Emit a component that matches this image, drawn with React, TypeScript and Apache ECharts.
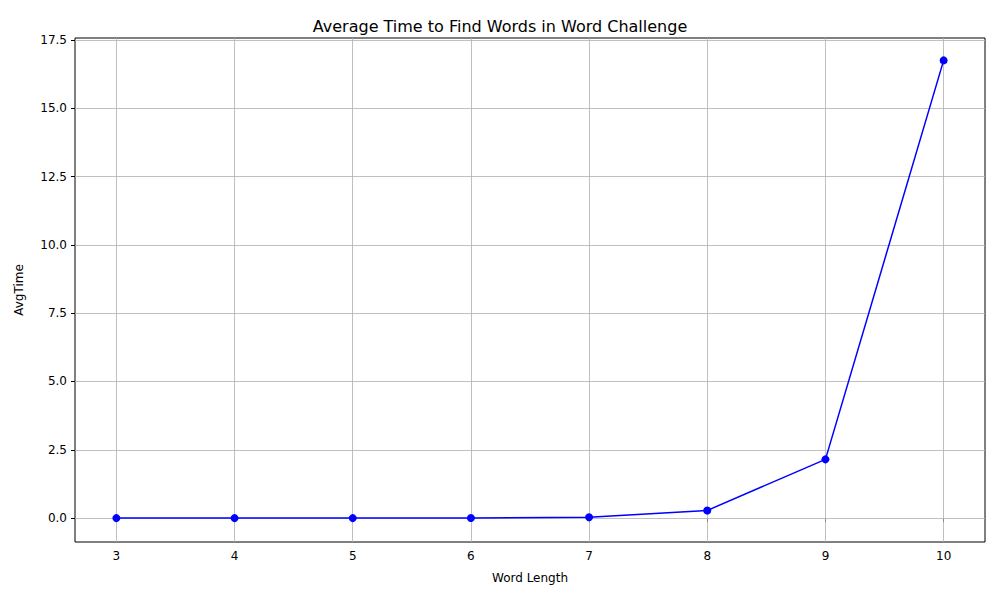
import React, { useEffect, useRef } from 'react';
import * as echarts from 'echarts';

const wordLengths = [3, 4, 5, 6, 7, 8, 9, 10];
const avgTimes = [0.0, 0.0, 0.0, 0.005, 0.03, 0.28, 2.15, 16.75];
const yTicks = [0, 2.5, 5, 7.5, 10, 12.5, 15, 17.5];

const font = 'DejaVu Sans';

const App: React.FC = () => {
  const ref = useRef<HTMLDivElement>(null);

  useEffect(() => {
    if (!ref.current) return;
    const chart = echarts.init(ref.current, undefined, { renderer: 'svg' });
    const gridStyle = { color: '#b0b0b0', width: 0.8, type: 'solid' as const };
    chart.setOption({
      animation: false,
      title: {
        text: 'Average Time to Find Words in Word Challenge',
        left: 'center',
        top: 13,
        textStyle: { fontFamily: font, fontSize: 16, fontWeight: 'normal', color: '#000' },
      },
      grid: {
        left: 75, right: 15, top: 38, bottom: 58,
        show: true, borderColor: '#000', borderWidth: 1, backgroundColor: 'transparent',
      },
      xAxis: {
        type: 'value', min: 2.65, max: 10.35,
        name: 'Word Length', nameLocation: 'middle', nameGap: 30,
        nameTextStyle: { fontFamily: font, fontSize: 12, color: '#000' },
        axisLine: { show: false },
        axisTick: { show: true, customValues: wordLengths, length: 4, lineStyle: { color: '#000' } },
        axisLabel: { customValues: wordLengths, fontFamily: font, fontSize: 12, color: '#000', margin: 8 },
        splitLine: { show: false },
      },
      yAxis: {
        type: 'value', min: -0.875, max: 17.57,
        name: 'AvgTime', nameLocation: 'middle', nameGap: 50,
        nameTextStyle: { fontFamily: font, fontSize: 12, color: '#000' },
        axisLine: { show: false },
        axisTick: { show: true, customValues: yTicks, length: 4, lineStyle: { color: '#000' } },
        axisLabel: {
          customValues: yTicks, fontFamily: font, fontSize: 12, color: '#000', margin: 8,
          formatter: (v: number) => v.toFixed(1),
        },
        splitLine: { show: false },
      },
      series: [
        {
          type: 'line',
          data: wordLengths.map((x, i) => [x, avgTimes[i]]),
          symbol: 'circle', symbolSize: 8,
          lineStyle: { color: '#0000ff', width: 1.5 },
          itemStyle: { color: '#0000ff' },
          z: 3,
          markLine: {
            silent: true, symbol: 'none', label: { show: false },
            lineStyle: gridStyle, z: 1,
            data: [
              ...wordLengths.map((x) => ({ xAxis: x })),
              ...yTicks.map((y) => ({ yAxis: y })),
            ],
          },
        },
      ],
    });
    return () => chart.dispose();
  }, []);

  return <div ref={ref} style={{ width: 1000, height: 600, position: 'absolute', left: 0, top: 0 }} />;
};

export default App;
